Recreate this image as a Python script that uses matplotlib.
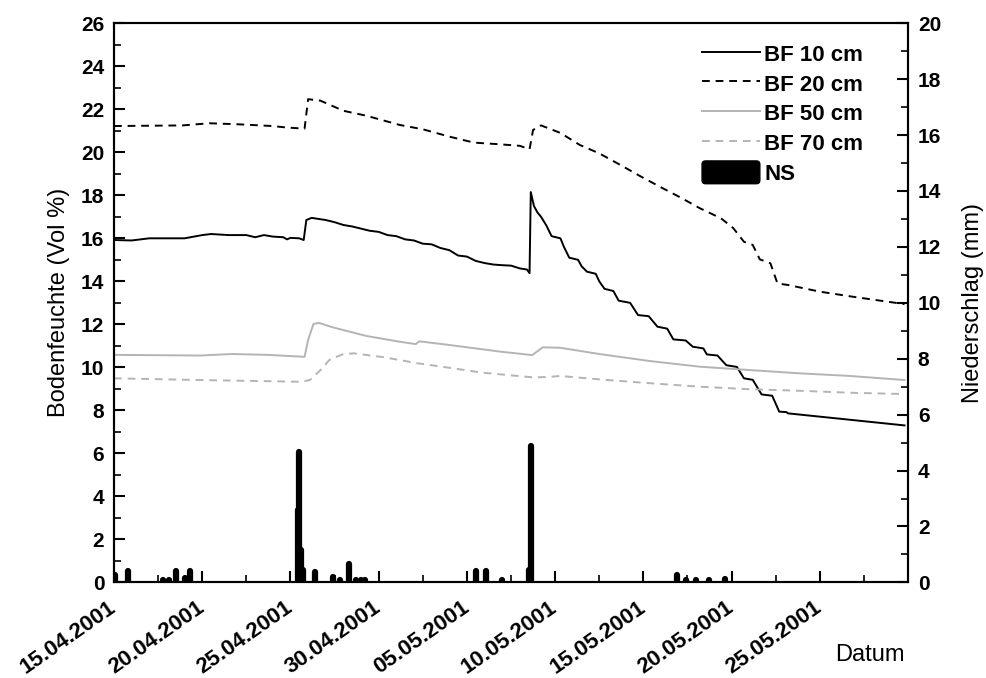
import numpy as np
import pandas as pd
import matplotlib
matplotlib.use("Agg")
import matplotlib.pyplot as plt
import matplotlib.dates as mdates
from matplotlib.ticker import MultipleLocator, AutoMinorLocator, FixedLocator
from matplotlib.patches import Patch, FancyBboxPatch
from matplotlib.legend_handler import HandlerPatch

plt.rcParams["font.family"] = ["Liberation Sans", "DejaVu Sans"]

start = pd.Timestamp("2001-04-15")

# soil moisture (Vol %), time in days after 15.04.2001 00:00
bf10_t = [0.0, 1.0, 2.0, 3.0, 4.0, 5.0, 5.5, 6.5, 7.5, 8.0, 8.5, 9.0, 9.6, 9.8,
          10.0, 10.5, 10.75, 10.9, 11.2, 12.0, 12.5, 13.0, 13.5, 14.0, 14.5,
          15.0, 15.5, 16.0, 16.5, 17.0, 17.5, 18.0, 18.5, 19.0, 19.5, 20.0,
          20.5, 21.0, 21.5, 22.0, 22.5, 23.0, 23.4, 23.55, 23.62, 23.8, 24.0,
          24.2, 24.5, 24.8, 25.3, 25.5, 25.8, 26.3, 26.5, 26.8, 27.3, 27.5,
          27.8, 28.3, 28.6, 29.25, 29.7, 30.3, 30.8, 31.35, 31.7, 32.4, 32.8,
          33.4, 33.6, 34.2, 34.7, 35.3, 35.7, 36.2, 36.7, 37.3, 37.7, 38.1,
          38.2, 44.8]
bf10 = [15.92, 15.9, 16.0, 16.0, 16.0, 16.15, 16.2, 16.15, 16.15, 16.05, 16.15,
        16.08, 16.05, 15.95, 16.02, 16.0, 15.92, 16.85, 16.95, 16.85, 16.75,
        16.62, 16.55, 16.45, 16.35, 16.3, 16.15, 16.1, 15.95, 15.9, 15.75,
        15.72, 15.55, 15.45, 15.2, 15.15, 14.95, 14.85, 14.78, 14.75, 14.73,
        14.6, 14.55, 14.38, 18.15, 17.5, 17.2, 17.0, 16.6, 16.1, 16.0, 15.6,
        15.1, 15.0, 14.7, 14.45, 14.35, 14.0, 13.65, 13.55, 13.1, 13.0, 12.43,
        12.38, 11.89, 11.8, 11.3, 11.25, 10.96, 10.88, 10.6, 10.55, 10.1,
        10.02, 9.49, 9.42, 8.74, 8.68, 7.94, 7.92, 7.86, 7.3]

bf20_t = [0.0, 3.9, 5.4, 7.1, 9.0, 9.8, 10.8, 11.0, 11.7, 13.0, 14.3, 16.2,
          17.5, 19.0, 20.4, 21.9, 23.0, 23.55, 23.75, 24.2, 25.3, 26.4, 27.5,
          28.7, 29.8, 31.0, 32.1, 33.2, 34.4, 35.1, 35.7, 36.2, 36.6, 37.2,
          37.6, 38.2, 40.0, 41.9, 44.8]
bf20 = [21.22, 21.25, 21.35, 21.3, 21.22, 21.15, 21.1, 22.47, 22.4, 21.93,
        21.7, 21.27, 21.07, 20.73, 20.45, 20.37, 20.3, 20.14, 21.04, 21.25,
        20.9, 20.34, 19.95, 19.41, 18.9, 18.37, 17.9, 17.4, 16.93, 16.47,
        15.84, 15.69, 15.02, 14.84, 13.9, 13.83, 13.52, 13.28, 12.94]

bf50_t = [0.0, 4.9, 6.7, 8.7, 10.8, 11.0, 11.3, 11.6, 12.4, 14.3, 16.2, 17.1,
          17.3, 19.0, 21.9, 23.7, 24.3, 25.3, 27.5, 30.4, 33.2, 36.1, 38.9,
          41.7, 44.8]
bf50 = [10.58, 10.55, 10.62, 10.58, 10.49, 11.27, 12.01, 12.07, 11.86, 11.46,
        11.19, 11.08, 11.21, 11.04, 10.73, 10.57, 10.93, 10.91, 10.62, 10.29,
        10.03, 9.87, 9.72, 9.6, 9.41]

bf70_t = [0.0, 4.9, 10.6, 11.1, 11.7, 12.2, 13.0, 13.6, 15.3, 17.2, 19.0,
          20.9, 23.8, 24.7, 25.3, 27.5, 30.4, 33.2, 36.1, 38.9, 41.7, 44.7]
bf70 = [9.49, 9.41, 9.33, 9.41, 9.87, 10.34, 10.62, 10.65, 10.47, 10.19, 9.98,
        9.75, 9.53, 9.56, 9.6, 9.44, 9.26, 9.1, 8.98, 8.91, 8.82, 8.76]

# precipitation (mm)
ns_t = [0.05, 0.8, 2.8, 3.1, 3.5, 4.0, 4.3, 10.4, 10.5, 10.6, 10.7, 11.4,
        12.4, 12.8, 13.3, 13.7, 14.0, 14.2, 20.5, 21.1, 22.0, 23.5, 23.62,
        31.9, 32.4, 33.0, 33.7, 34.6]
ns = [0.27, 0.4, 0.08, 0.08, 0.4, 0.15, 0.4, 2.6, 4.65, 1.15, 0.45, 0.38,
      0.2, 0.1, 0.66, 0.1, 0.1, 0.1, 0.4, 0.4, 0.1, 0.45, 4.88,
      0.27, 0.1, 0.1, 0.1, 0.12]

tick_dates = ["2001-04-15", "2001-04-20", "2001-04-25", "2001-04-30",
              "2001-05-05", "2001-05-10", "2001-05-15", "2001-05-20",
              "2001-05-25"]


def to_dates(days):
    return start + pd.to_timedelta(np.asarray(days), unit="D")


fig = plt.figure(figsize=(9.87, 6.78), dpi=100)
ax = fig.add_axes([0.1155, 0.141, 0.8045, 0.8247])
ax2 = ax.twinx()

ax.plot(to_dates(bf10_t), bf10, color="black", lw=1.4, label="BF 10 cm")
ax.plot(to_dates(bf20_t), bf20, color="black", lw=1.4, ls=(0, (4, 3)),
        label="BF 20 cm")
ax.plot(to_dates(bf50_t), bf50, color="#b4b4b4", lw=1.4, label="BF 50 cm")
ax.plot(to_dates(bf70_t), bf70, color="#b4b4b4", lw=1.4, ls=(0, (4, 3)),
        label="BF 70 cm")

ax2.vlines(to_dates(ns_t), 0, ns, color="black", lw=4.5, capstyle="round")

x0 = mdates.date2num(start)
ax.set_xlim(x0, x0 + 45)
ax.set_ylim(0, 26)
ax2.set_ylim(0, 20)

ax.xaxis.set_major_locator(FixedLocator(mdates.date2num(pd.to_datetime(tick_dates))))
ax.xaxis.set_minor_locator(AutoMinorLocator(2))
ax.set_xticklabels([pd.Timestamp(d).strftime("%d.%m.%Y") for d in tick_dates],
                   rotation=35, ha="right", va="center", rotation_mode="anchor",
                   fontweight="bold", fontsize=16)

ax.yaxis.set_major_locator(MultipleLocator(2))
ax.yaxis.set_minor_locator(MultipleLocator(1))
ax2.yaxis.set_major_locator(MultipleLocator(2))
ax2.yaxis.set_minor_locator(MultipleLocator(1))

for a in (ax, ax2):
    for s in a.spines.values():
        s.set_linewidth(1.5)
    a.tick_params(which="major", direction="in", length=8, width=1.5,
                  labelsize=15, pad=7)
    a.tick_params(which="minor", direction="in", length=5, width=1.2)
    for lbl in a.get_yticklabels():
        lbl.set_fontweight("bold")
ax.tick_params(axis="x", which="major", pad=17, labelsize=16)

ax.set_ylabel("Bodenfeuchte (Vol %)", fontsize=17, labelpad=8)
ax2.set_ylabel("Niederschlag (mm)", fontsize=17, labelpad=15)
fig.text(0.917, 0.034, "Datum", fontsize=17, ha="right", va="center")


def rounded_box(legend, orig_handle, xdescent, ydescent, width, height, fontsize):
    return FancyBboxPatch((-xdescent, -ydescent), width, height,
                          boxstyle="round,pad=0,rounding_size=2.5")


handles = ax.get_legend_handles_labels()[0]
handles.append(Patch(facecolor="black", edgecolor="black"))
labels = ["BF 10 cm", "BF 20 cm", "BF 50 cm", "BF 70 cm", "NS"]
leg = ax.legend(handles, labels, loc="upper left", frameon=False,
                bbox_to_anchor=(0.7406, 0.966), borderaxespad=0, borderpad=0,
                handlelength=2.6, handleheight=1.2, labelspacing=0.26,
                handletextpad=0.2,
                prop={"weight": "bold", "size": 16},
                handler_map={Patch: HandlerPatch(patch_func=rounded_box)})

fig.savefig("out.png", dpi=100)
